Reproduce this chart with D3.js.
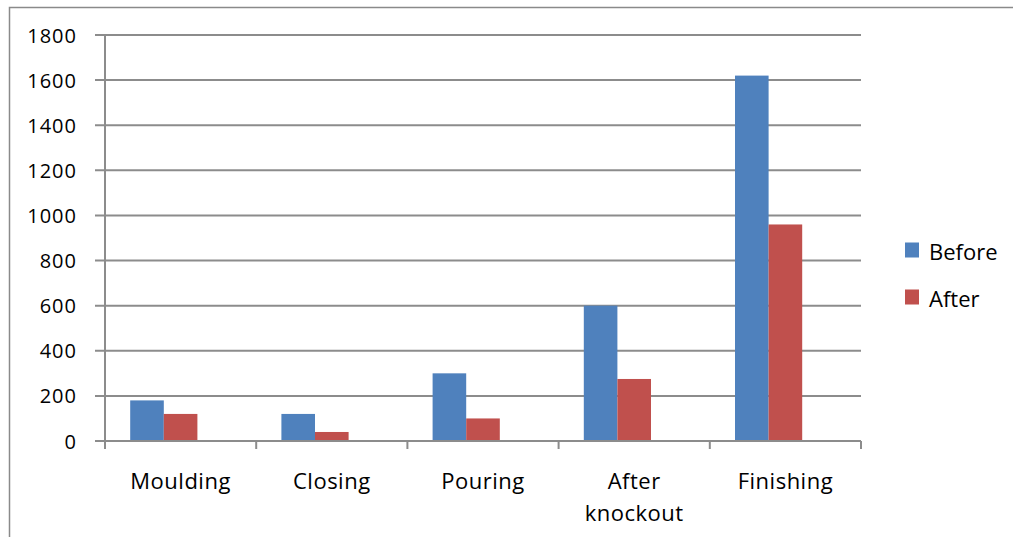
<!DOCTYPE html>
<html><head><meta charset="utf-8">
<script src="https://cdn.jsdelivr.net/npm/d3@7"></script>
<style>body{margin:0;background:#fff}svg{display:block}text{font-family:"Open Sans",sans-serif;fill:#000}</style>
</head><body><svg id="c" width="1013" height="537"></svg>
<script>
const categories = ["Moulding", "Closing", "Pouring", "After knockout", "Finishing"];
const categoryLines = [["Moulding"], ["Closing"], ["Pouring"], ["After", "knockout"], ["Finishing"]];
const seriesNames = ["Before", "After"];
const before = [180, 120, 300, 600, 1620];
const after = [120, 40, 100, 275, 960];
const yTicks = [0, 200, 400, 600, 800, 1000, 1200, 1400, 1600, 1800];
const colors = ["#4F81BD", "#C0504D"];

(function () {
const svg = d3.select("#c");
const pl = 105, pr = 861, pt = 35, pb = 441;
const grid = "#8c8c8c";

svg.append("rect").attr("x", 9.5).attr("y", 7.5).attr("width", 1010).attr("height", 540)
  .attr("fill", "none").attr("stroke", "#8a8a8a").attr("stroke-width", 1.5);

const x = d3.scaleBand().domain(categories).range([pl, pr]).paddingInner(0).paddingOuter(0);
// Excel clustered layout: gap width 150%, three slots (third unused)
const slot = x.bandwidth() / 4.5;
const x1 = d3.scaleBand().domain([...seriesNames, "_"]).range([0.75 * slot, 3.75 * slot]).padding(0);
const y = d3.scaleLinear().domain([0, 1800]).range([pb, pt]);

svg.append("g").selectAll("line").data(yTicks).join("line")
  .attr("x1", pl - 10).attr("x2", pr).attr("y1", d => y(d)).attr("y2", d => y(d))
  .attr("stroke", grid).attr("stroke-width", 2);

svg.append("g").selectAll("text").data(yTicks).join("text")
  .attr("x", 77).attr("y", d => y(d) + 7.5).attr("text-anchor", "end")
  .attr("font-size", 20).attr("letter-spacing", 1).text(d => d);

const data = categories.map((c, i) => ({c, vals: [before[i], after[i]]}));
const g = svg.append("g");
data.forEach(d => {
  d.vals.forEach((v, j) => {
    g.append("rect")
      .attr("x", x(d.c) + x1(seriesNames[j]))
      .attr("y", y(v)).attr("width", x1.bandwidth()).attr("height", y(0) - y(v))
      .attr("fill", colors[j]);
  });
});

svg.append("line").attr("x1", pl).attr("x2", pl).attr("y1", pt).attr("y2", pb + 8)
  .attr("stroke", grid).attr("stroke-width", 2);
svg.append("line").attr("x1", pl - 10).attr("x2", pr).attr("y1", pb).attr("y2", pb)
  .attr("stroke", grid).attr("stroke-width", 2);
const bounds = categories.map(c => x(c)).concat([pr]);
svg.append("g").selectAll("line").data(bounds).join("line")
  .attr("x1", d => d).attr("x2", d => d).attr("y1", pb).attr("y2", pb + 8)
  .attr("stroke", grid).attr("stroke-width", 2);

categories.forEach((c, i) => {
  const t = svg.append("text").attr("text-anchor", "middle").attr("font-size", 22)
    .attr("letter-spacing", 0.5);
  categoryLines[i].forEach((ln, k) => {
    t.append("tspan").attr("x", x(c) + x.bandwidth() / 2).attr("y", 488.5 + k * 32).text(ln);
  });
});

seriesNames.forEach((s, j) => {
  const ly = 242.5 + j * 47;
  svg.append("rect").attr("x", 905).attr("y", ly).attr("width", 14).attr("height", 15).attr("fill", colors[j]);
  svg.append("text").attr("x", 929).attr("y", ly + 17.5).attr("font-size", 22).text(s);
});
})();
</script></body></html>
